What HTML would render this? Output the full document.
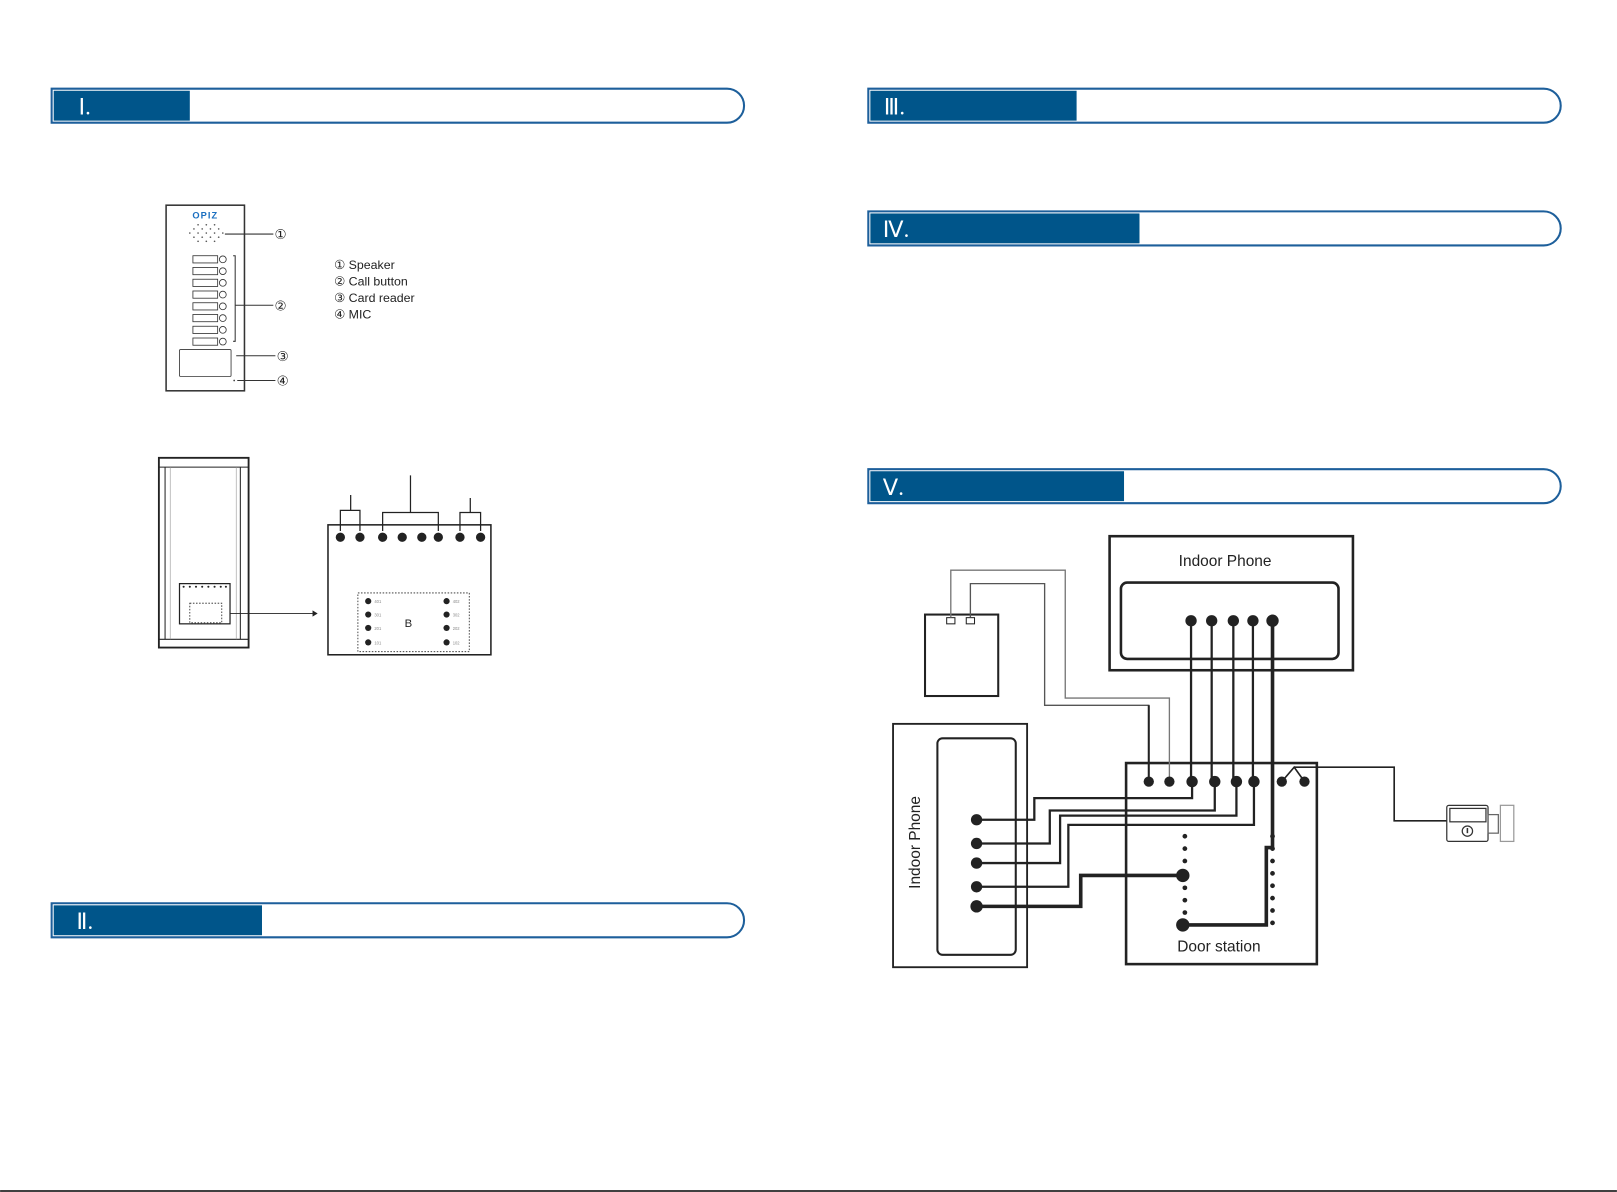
<!DOCTYPE html>
<html><head><style>html,body{margin:0;padding:0;background:#fff}svg{display:block}</style></head>
<body>
<svg width="1617" height="1192" viewBox="0 0 1568 1156" xmlns="http://www.w3.org/2000/svg" font-family="Liberation Sans, sans-serif">
<rect width="1568" height="1156" fill="#fff"/>
<g stroke="#1d5f9b" stroke-width="2" fill="none">
<path d="M50 86 H705 A16.5 16.5 0 0 1 705 119 H50 Z"/>
<path d="M50 876 H705 A16.5 16.5 0 0 1 705 909 H50 Z"/>
<path d="M842 86 H1497 A16.5 16.5 0 0 1 1497 119 H842 Z"/>
<path d="M842 205 H1497 A16.5 16.5 0 0 1 1497 238 H842 Z"/>
<path d="M842 455 H1497 A16.5 16.5 0 0 1 1497 488 H842 Z"/>
</g>
<g fill="#00558a">
<rect x="52" y="88" width="132" height="29"/>
<rect x="52" y="878" width="202" height="29"/>
<rect x="844" y="88" width="200" height="29"/>
<rect x="844" y="207" width="261" height="29"/>
<rect x="844" y="457" width="246" height="29"/>
</g>
<g fill="#fff" font-family="Liberation Serif, serif" font-size="22">
<text x="76" y="111">Ⅰ.</text>
<text x="74" y="901">Ⅱ.</text>
<text x="857" y="111">Ⅲ.</text>
<text x="856" y="230">Ⅳ.</text>
<text x="856" y="480">Ⅴ.</text>
</g>
<line x1="0" y1="1155" x2="1568" y2="1155" stroke="#000" stroke-width="1.5"/>

<rect x="161" y="199" width="76" height="180" fill="none" stroke="#333" stroke-width="1.5"/>
<text x="199" y="212" text-anchor="middle" font-size="9" font-weight="bold" fill="#1a6fc0" letter-spacing="1">OPIZ</text>
<g fill="#555">
<circle cx="184" cy="226" r="0.8"/><circle cx="188" cy="222" r="0.8"/><circle cx="188" cy="230" r="0.8"/><circle cx="192" cy="218" r="0.8"/><circle cx="192" cy="226" r="0.8"/><circle cx="192" cy="234" r="0.8"/><circle cx="196" cy="222" r="0.8"/><circle cx="196" cy="230" r="0.8"/><circle cx="200" cy="218" r="0.8"/><circle cx="200" cy="226" r="0.8"/><circle cx="200" cy="234" r="0.8"/><circle cx="204" cy="222" r="0.8"/><circle cx="204" cy="230" r="0.8"/><circle cx="208" cy="218" r="0.8"/><circle cx="208" cy="226" r="0.8"/><circle cx="208" cy="234" r="0.8"/><circle cx="212" cy="222" r="0.8"/><circle cx="212" cy="230" r="0.8"/><circle cx="216" cy="226" r="0.8"/>
</g>
<g fill="none" stroke="#333" stroke-width="0.8">
<rect x="187" y="248" width="24" height="7"/><circle cx="216" cy="251.5" r="3.3"/>
<rect x="187" y="259.4" width="24" height="7"/><circle cx="216" cy="263" r="3.3"/>
<rect x="187" y="270.8" width="24" height="7"/><circle cx="216" cy="274.3" r="3.3"/>
<rect x="187" y="282.2" width="24" height="7"/><circle cx="216" cy="285.7" r="3.3"/>
<rect x="187" y="293.6" width="24" height="7"/><circle cx="216" cy="297.1" r="3.3"/>
<rect x="187" y="305" width="24" height="7"/><circle cx="216" cy="308.5" r="3.3"/>
<rect x="187" y="316.4" width="24" height="7"/><circle cx="216" cy="319.9" r="3.3"/>
<rect x="187" y="327.8" width="24" height="7"/><circle cx="216" cy="331.3" r="3.3"/>
<rect x="174" y="339" width="50" height="26" rx="1"/>
</g>
<g stroke="#333" stroke-width="1" fill="none">
<path d="M226 248 H228 V331 H226"/>
<line x1="228" y1="296" x2="265" y2="296"/>
<line x1="218" y1="227" x2="265" y2="227"/>
<line x1="229" y1="345" x2="267" y2="345"/>
<line x1="230" y1="369" x2="267" y2="369"/>
</g>
<circle cx="227" cy="369" r="0.8" fill="#333"/>
<g font-size="13" fill="#222" text-anchor="middle">
<text x="272" y="232">①</text><text x="272" y="301">②</text><text x="274" y="350">③</text><text x="274" y="374">④</text>
</g>
<g font-size="12" fill="#222">
<text x="324" y="261">① Speaker</text>
<text x="324" y="277">② Call button</text>
<text x="324" y="293">③ Card reader</text>
<text x="324" y="309">④ MIC</text>
</g>

<g stroke="#222" fill="none">
<rect x="154" y="444" width="87" height="184" stroke-width="1.8"/>
<line x1="154" y1="453" x2="241" y2="453" stroke-width="1"/>
<line x1="154" y1="620" x2="241" y2="620" stroke-width="1"/>
<line x1="160" y1="453" x2="160" y2="620" stroke-width="1"/>
<line x1="165" y1="453" x2="165" y2="620" stroke-width="0.6" stroke="#999"/>
<line x1="233" y1="453" x2="233" y2="620" stroke-width="1"/>
<line x1="229" y1="453" x2="229" y2="620" stroke-width="0.6" stroke="#999"/>
<rect x="174" y="566" width="49" height="39" stroke-width="1.2"/>
<rect x="184" y="585" width="31" height="19" stroke-width="0.8" stroke-dasharray="1.5 1.5"/>
<line x1="223" y1="595" x2="303" y2="595" stroke-width="0.8"/>
</g>
<path d="M303 592 L308 595 L303 598 Z" fill="#222"/>
<g fill="#222"><circle cx="178" cy="569" r="1"/><circle cx="184" cy="569" r="1"/><circle cx="190" cy="569" r="1"/><circle cx="196" cy="569" r="1"/><circle cx="202" cy="569" r="1"/><circle cx="208" cy="569" r="1"/><circle cx="214" cy="569" r="1"/><circle cx="219" cy="569" r="1"/></g>
<rect x="318" y="509" width="158" height="126" fill="none" stroke="#222" stroke-width="1.5"/>
<g fill="#222">
<circle cx="330" cy="521" r="4.5"/><circle cx="349" cy="521" r="4.5"/><circle cx="371" cy="521" r="4.5"/><circle cx="390" cy="521" r="4.5"/><circle cx="409" cy="521" r="4.5"/><circle cx="425" cy="521" r="4.5"/><circle cx="446" cy="521" r="4.5"/><circle cx="466" cy="521" r="4.5"/>
</g>
<g stroke="#222" stroke-width="1.2" fill="none">
<path d="M330 515 V495 H349 V515 M340 495 V480"/>
<path d="M371 515 V497 H425 V515 M398 497 V461"/>
<path d="M446 515 V497 H466 V515 M456 497 V483"/>
<rect x="347" y="575" width="108" height="57" stroke-width="0.8" stroke-dasharray="1.5 1.5"/>
</g>
<g fill="#222">
<circle cx="357" cy="583" r="3"/><circle cx="357" cy="596" r="3"/><circle cx="357" cy="609" r="3"/><circle cx="357" cy="623" r="3"/>
<circle cx="433" cy="583" r="3"/><circle cx="433" cy="596" r="3"/><circle cx="433" cy="609" r="3"/><circle cx="433" cy="623" r="3"/>
</g>
<g font-size="4" fill="#888"><text x="363" y="585">401</text><text x="363" y="598">301</text><text x="363" y="611">201</text><text x="363" y="625">101</text><text x="439" y="585">402</text><text x="439" y="598">302</text><text x="439" y="611">202</text><text x="439" y="625">102</text></g>
<text x="396" y="608" text-anchor="middle" font-size="11" fill="#222">B</text>

<g fill="none" stroke="#222">
<rect x="1076" y="520" width="236" height="130" stroke-width="2.5"/>
<rect x="1087" y="565" width="211" height="74" rx="6" stroke-width="2.5"/>
<rect x="897" y="596" width="71" height="79" stroke-width="2"/>
<rect x="866" y="702" width="130" height="236" stroke-width="1.8"/>
<rect x="909" y="716" width="76" height="210" rx="5" stroke-width="2"/>
<rect x="1092" y="740" width="185" height="195" stroke-width="2.5"/>
<rect x="918" y="599" width="8" height="6" stroke-width="1"/>
<rect x="937" y="599" width="8" height="6" stroke-width="1"/>
<path d="M922 599 V553 H1033 V677 H1134 V758" stroke="#777" stroke-width="1.3"/>
<path d="M941 599 V566 H1013 V684 H1114 V758" stroke="#555" stroke-width="1.3"/>
<path d="M1114 684 V758" stroke="#222" stroke-width="2"/>
<g stroke-width="2.2">
<path d="M1155 602 V758"/><path d="M1175 602 V758"/><path d="M1196 602 V758"/><path d="M1215 602 V758"/>
<path d="M1156 758 V774 H1003 V795 H947"/>
<path d="M1178 758 V786 H1018 V818 H947"/>
<path d="M1199 758 V791 H1028 V837 H947"/>
<path d="M1216 758 V800 H1036 V860 H947"/>
</g>
<g stroke-width="3.5">
<path d="M1234 602 V822 H1228 V897 H1147"/>
<path d="M947 879 H1048 V849 H1147"/>
</g>
<path d="M1243 758 L1255 744 L1265 758 M1255 744 H1352 V796 H1403" stroke-width="1.6"/>
</g>
<g fill="#222">
<circle cx="1155" cy="602" r="5.5"/><circle cx="1175" cy="602" r="5.5"/><circle cx="1196" cy="602" r="5.5"/><circle cx="1215" cy="602" r="5.5"/><circle cx="1234" cy="602" r="6"/>
<circle cx="1114" cy="758" r="5"/><circle cx="1134" cy="758" r="5"/><circle cx="1156" cy="758" r="5.5"/><circle cx="1178" cy="758" r="5.5"/><circle cx="1199" cy="758" r="5.5"/><circle cx="1216" cy="758" r="5.5"/><circle cx="1243" cy="758" r="5"/><circle cx="1265" cy="758" r="5"/>
<circle cx="947" cy="795" r="5.5"/><circle cx="947" cy="818" r="5.5"/><circle cx="947" cy="837" r="5.5"/><circle cx="947" cy="860" r="5.5"/><circle cx="947" cy="879" r="6"/>
<circle cx="1147" cy="849" r="6.5"/><circle cx="1147" cy="897" r="6.5"/>
<circle cx="1149" cy="811" r="2.3"/><circle cx="1149" cy="823" r="2.3"/><circle cx="1149" cy="835" r="2.3"/><circle cx="1149" cy="861" r="2.3"/><circle cx="1149" cy="873" r="2.3"/><circle cx="1149" cy="885" r="2.3"/>
<circle cx="1234" cy="811" r="2.3"/><circle cx="1234" cy="823" r="2.3"/><circle cx="1234" cy="835" r="2.3"/><circle cx="1234" cy="847" r="2.3"/><circle cx="1234" cy="859" r="2.3"/><circle cx="1234" cy="871" r="2.3"/><circle cx="1234" cy="883" r="2.3"/><circle cx="1234" cy="895" r="2.3"/>
</g>
<text x="1188" y="549" text-anchor="middle" font-size="15" fill="#222">Indoor Phone</text>
<text x="1182" y="923" text-anchor="middle" font-size="15" fill="#222">Door station</text>
<text transform="translate(892,817) rotate(-90)" text-anchor="middle" font-size="15" fill="#222">Indoor Phone</text>
<g fill="none" stroke="#333" stroke-width="1.2">
<rect x="1403" y="781" width="40" height="35" rx="2"/>
<rect x="1406" y="784" width="35" height="13"/>
<circle cx="1423" cy="806" r="5"/>
<rect x="1443" y="790" width="10" height="18" stroke="#666"/>
<rect x="1455" y="781" width="13" height="35" stroke="#999"/>
</g>
<line x1="1423" y1="803" x2="1423" y2="808" stroke="#333" stroke-width="1.5"/>
</svg>
</body></html>
